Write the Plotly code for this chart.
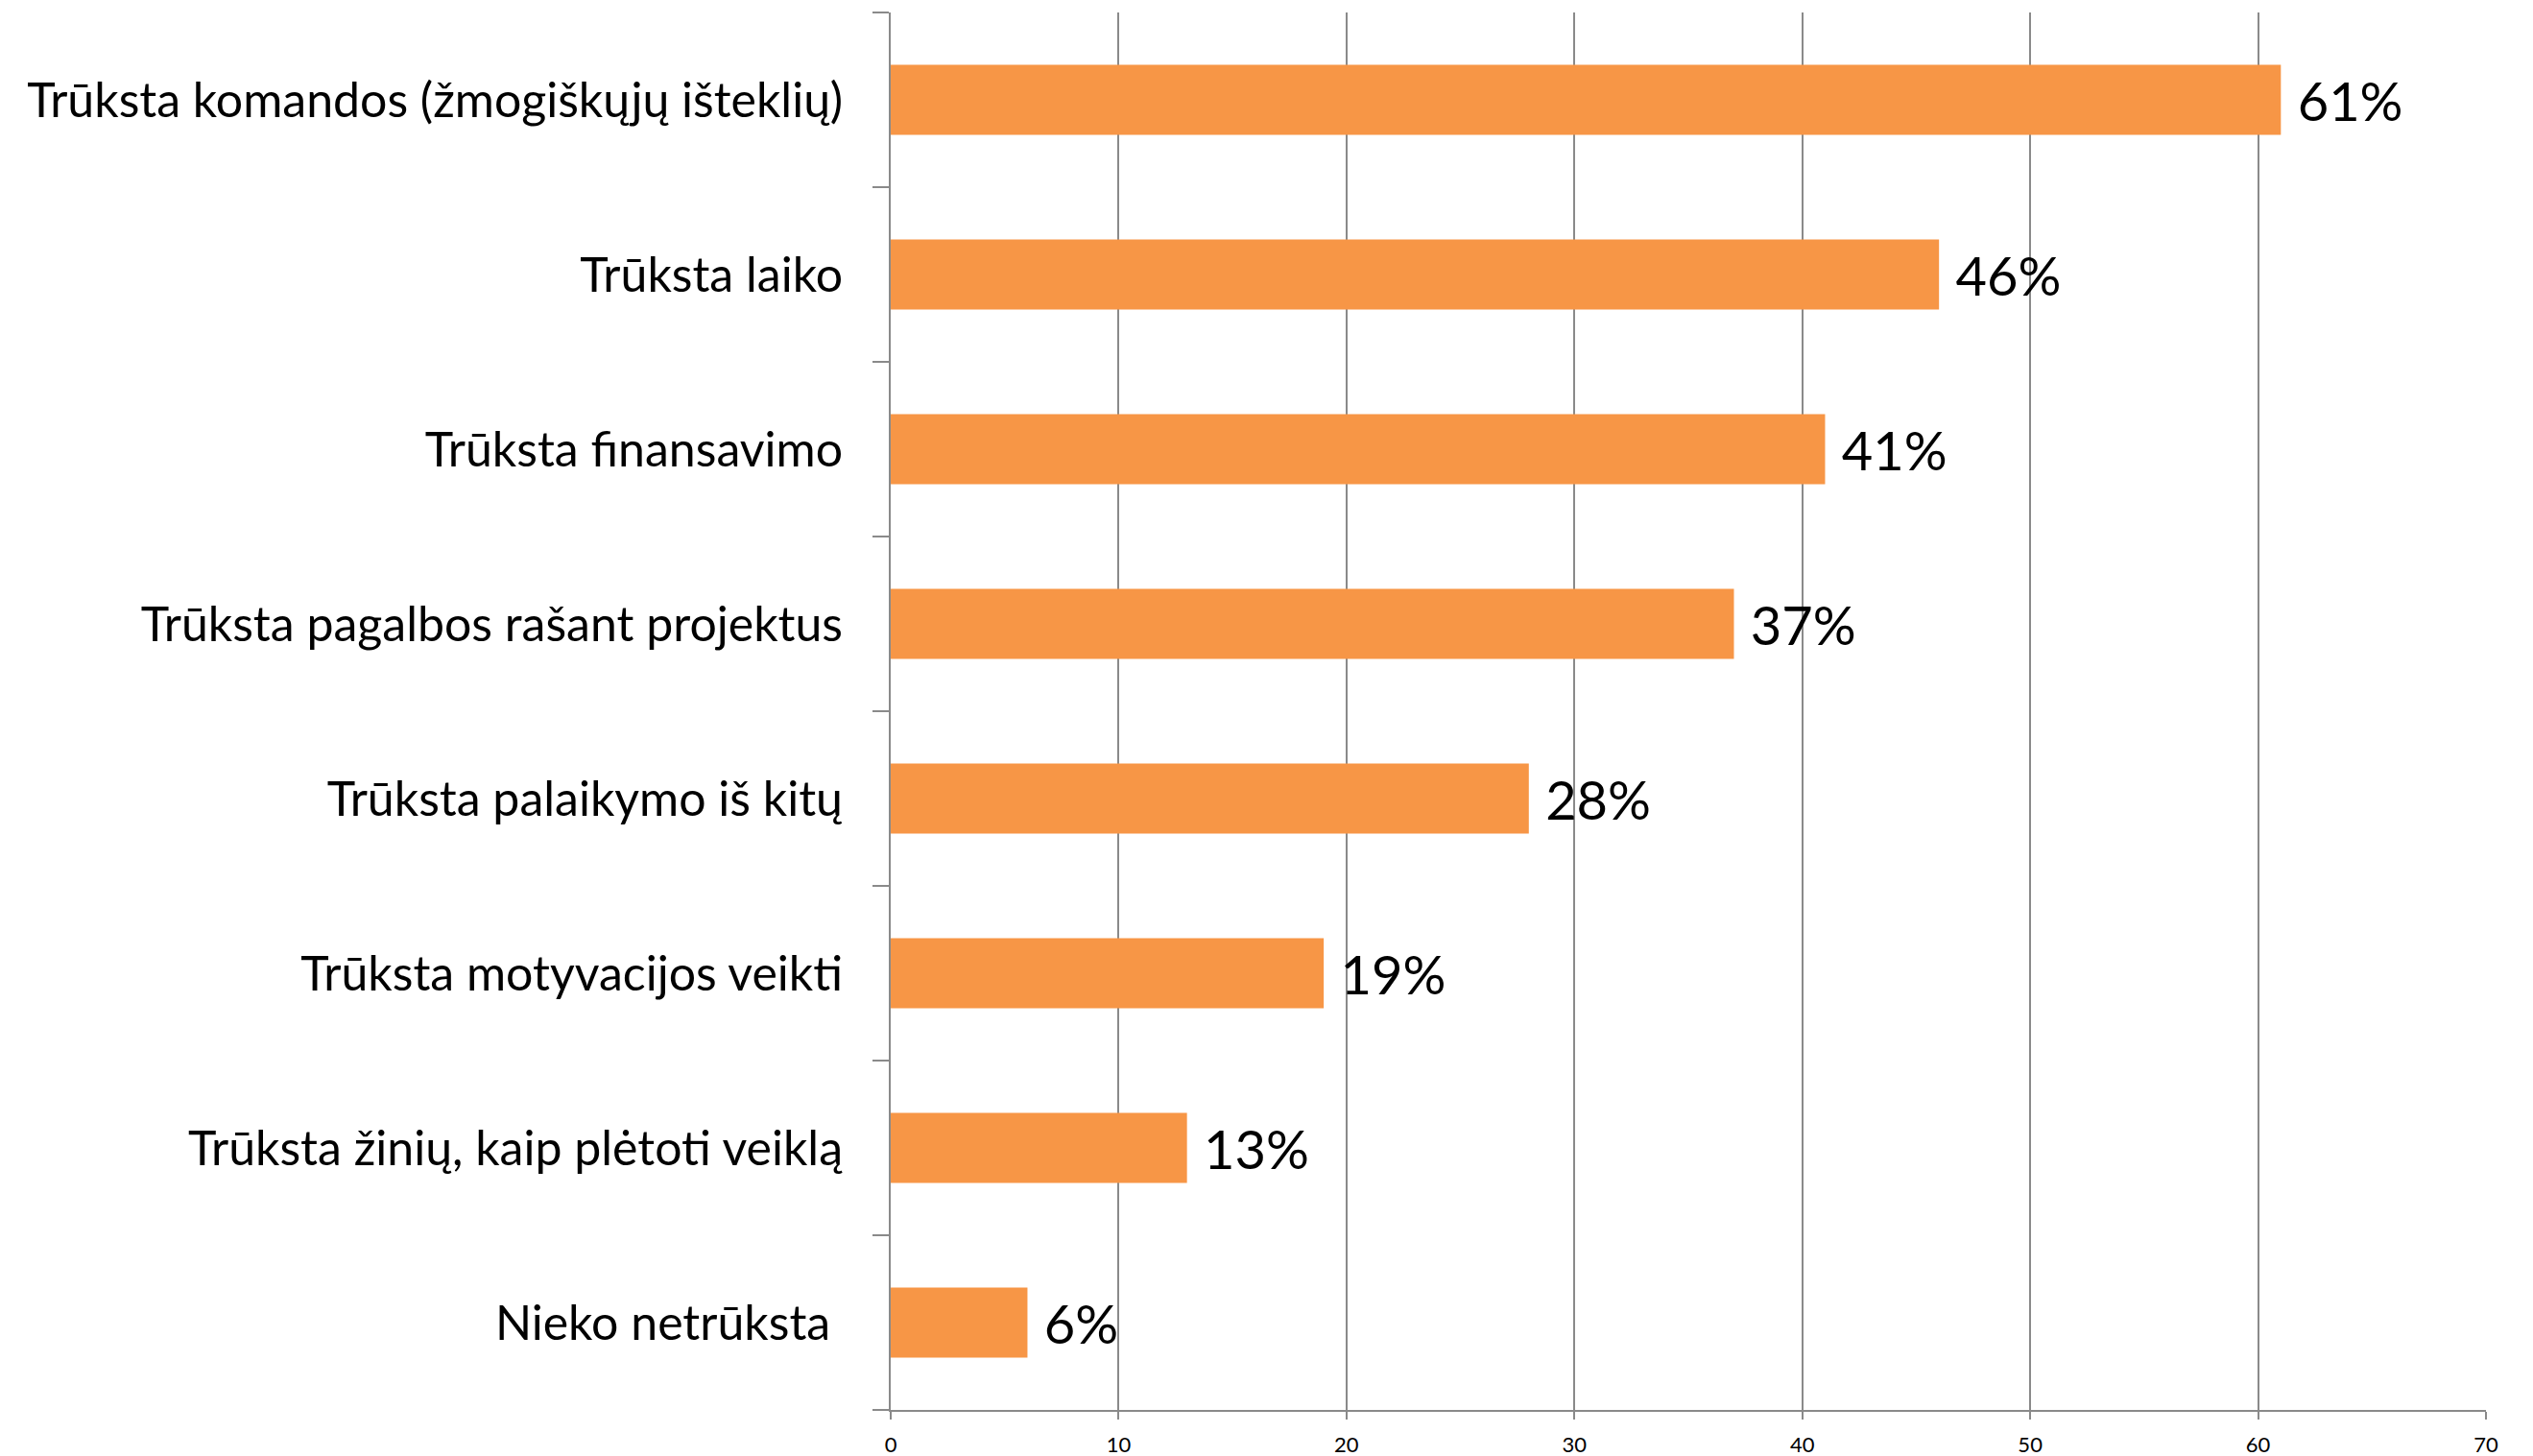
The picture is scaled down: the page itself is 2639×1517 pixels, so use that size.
import plotly.graph_objects as go

# Survey answers, listed top to bottom as they appear on the chart
categories = [
    "Trūksta komandos (žmogiškųjų išteklių)",
    "Trūksta laiko",
    "Trūksta finansavimo",
    "Trūksta pagalbos rašant projektus",
    "Trūksta palaikymo iš kitų",
    "Trūksta motyvacijos veikti",
    "Trūksta žinių, kaip plėtoti veiklą",
    "Nieko netrūksta\u00a0",
]
values = [61, 46, 41, 37, 28, 19, 13, 6]
x_ticks = [0, 10, 20, 30, 40, 50, 60, 70]

FONT = "Lato"
GRID = "#8a8a8a"

fig = go.Figure(
    go.Bar(
        x=values,
        y=categories,
        orientation="h",
        width=0.4,
        marker=dict(color="#F79646", line=dict(width=0)),
        text=[f"\u00a0{v}%" for v in values],
        textposition="outside",
        cliponaxis=False,
        textfont=dict(family=FONT, size=56, color="#000000"),
        hoverinfo="skip",
    )
)

fig.update_layout(
    width=2639,
    height=1517,
    margin=dict(l=928, r=49, t=13, b=48),
    paper_bgcolor="white",
    plot_bgcolor="white",
    showlegend=False,
    font=dict(family=FONT, color="#000000"),
)

fig.update_xaxes(
    range=[0, 70],
    tickvals=x_ticks,
    ticktext=[str(t) for t in x_ticks],
    showgrid=True,
    gridcolor=GRID,
    gridwidth=2,
    showline=True,
    linecolor=GRID,
    linewidth=2,
    ticks="outside",
    ticklen=8,
    tickwidth=2,
    tickcolor=GRID,
    ticklabelstandoff=8,
    tickfont=dict(family=FONT, size=22, color="#000000"),
    zeroline=False,
    automargin=False,
    fixedrange=True,
)

fig.update_yaxes(
    categoryorder="array",
    categoryarray=categories[::-1],
    showline=True,
    linecolor=GRID,
    linewidth=2,
    ticks="outside",
    tickson="boundaries",
    ticklen=17,
    tickwidth=2,
    tickcolor=GRID,
    ticklabelstandoff=38,
    tickfont=dict(family=FONT, size=50, color="#000000"),
    showgrid=False,
    zeroline=False,
    automargin=False,
    fixedrange=True,
)

fig.write_html("out.html")
